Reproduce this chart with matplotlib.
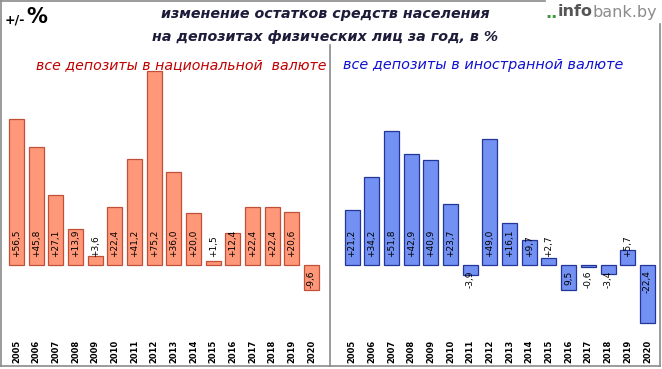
import matplotlib
matplotlib.use('Agg')
import matplotlib.pyplot as plt
from matplotlib.lines import Line2D

years = ['2005', '2006', '2007', '2008', '2009', '2010', '2011', '2012',
         '2013', '2014', '2015', '2016', '2017', '2018', '2019', '2020']
national = [56.5, 45.8, 27.1, 13.9, 3.6, 22.4, 41.2, 75.2,
            36.0, 20.0, 1.5, 12.4, 22.4, 22.4, 20.6, -9.6]
foreign = [21.2, 34.2, 51.8, 42.9, 40.9, 23.7, -3.9, 49.0,
           16.1, 9.7, 2.7, -9.5, -0.6, -3.4, 5.7, -22.4]

W, H = 662, 369
fig = plt.figure(figsize=(W / 100, H / 100), dpi=100)


def px_axes(x0, y0, x1, y1):
    # pixel box (top-left origin) -> figure axes
    return fig.add_axes([x0 / W, 1 - y1 / H, (x1 - x0) / W, (y1 - y0) / H])


def fmt(v):
    s = f'{v:+.1f}'.replace('.', ',')
    if s == '-9,5':
        s = '9,5'
    return s


def draw_panel(ax, values, face, edge, xlim):
    x = list(range(len(values)))
    ax.bar(x, values, width=0.76, color=face, edgecolor=edge, linewidth=0.9)
    ax.set_xlim(*xlim)
    ax.set_ylim(-25.2, 79.5)
    for i, v in enumerate(values):
        if v >= 0:
            ax.annotate(fmt(v), (i, 0), xytext=(0, 6), textcoords='offset points',
                        rotation=90, ha='center', va='bottom', fontsize=6.5)
        else:
            ax.annotate(fmt(v), (i, 0), xytext=(0, -4), textcoords='offset points',
                        rotation=90, ha='center', va='top', fontsize=6.5)
    ax.set_xticks(x)
    ax.set_xticklabels(years, rotation=90, fontsize=6, fontweight='bold')
    ax.tick_params(axis='x', length=0, pad=7)
    ax.set_yticks([])
    for s in ax.spines.values():
        s.set_visible(False)
    ax.patch.set_alpha(0)


ax1 = px_axes(5, 60, 330, 330)
draw_panel(ax1, national, '#FF9878', '#C0503A', (-0.58, 15.94))
ax2 = px_axes(330, 60, 660, 330)
draw_panel(ax2, foreign, '#7391F2', '#22369A', (-1.12, 15.64))

# frame and divider
def fig_line(xs, ys, **kw):
    fig.add_artist(Line2D([x / W for x in xs], [1 - y / H for y in ys],
                          transform=fig.transFigure, **kw))

grey = '#8a8a8a'
fig_line([1, 1], [1, 366], color=grey, lw=1.2)
fig_line([1, 545], [1, 1], color=grey, lw=1.2)
fig_line([1, 660], [366, 366], color=grey, lw=1.2)
fig_line([660, 660], [24, 366], color=grey, lw=1.2)
fig_line([330, 330], [45, 366], color=grey, lw=1.2)

# texts
fig.text(5 / W, 1 - 20 / H, '+/-', fontsize=9, fontweight='bold', va='center')
fig.text(26 / W, 1 - 17 / H, '%', fontsize=15, fontweight='bold', va='center')
fig.text(325 / W, 1 - 14 / H, 'изменение остатков средств населения',
         fontsize=10.3, style='italic', fontweight='bold', color='#1c1c3a',
         ha='center', va='center')
fig.text(325 / W, 1 - 37 / H, 'на депозитах физических лиц за год, в %',
         fontsize=10.3, style='italic', fontweight='bold', color='#1c1c3a',
         ha='center', va='center')
fig.text(181 / W, 1 - 65 / H, 'все депозиты в национальной  валюте',
         fontsize=10.2, style='italic', color='#C00000', ha='center', va='center')
fig.text(483 / W, 1 - 65 / H, 'все депозиты в иностранной валюте',
         fontsize=10.4, style='italic', color='#1010D0', ha='center', va='center')

# logo, laid out right to left
renderer = fig.canvas.get_renderer()
t3 = fig.text(657 / W, 1 - 12 / H, 'bank.by', fontsize=11.5, color='#8c8c8c',
              ha='right', va='center')
x3 = t3.get_window_extent(renderer).x0
t2 = fig.text(x3 / W / (fig.dpi / 100), 1 - 12 / H, 'info', fontsize=11.5,
              color='#555555', fontweight='bold', ha='right', va='center')
x2 = t2.get_window_extent(renderer).x0
fig.text(x2 / W / (fig.dpi / 100), 1 - 13 / H, '..', fontsize=11.5,
         color='#3a9a3a', fontweight='bold', ha='right', va='center')

fig.savefig('out.png', dpi=100)
